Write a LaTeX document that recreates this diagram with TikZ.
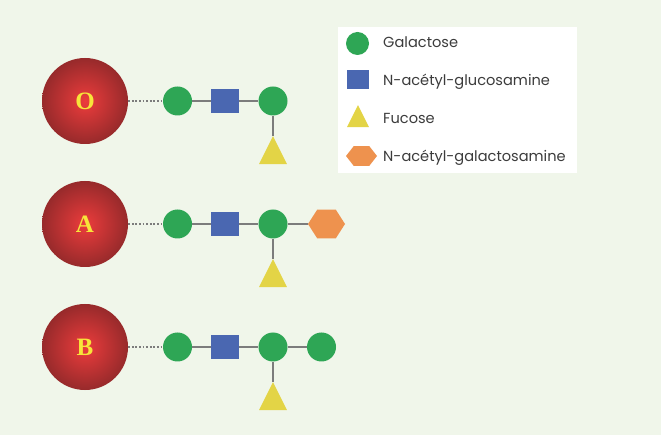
\documentclass[tikz,border=0pt]{standalone}
\usepackage{fontspec}
\newfontfamily\legfont{Poppins}
\newfontfamily\labfont{Liberation Serif}
\usetikzlibrary{shapes.geometric}
\definecolor{bgc}{HTML}{F0F6EA}
\definecolor{galc}{HTML}{2EA655}
\definecolor{glcnac}{HTML}{4A67B1}
\definecolor{fucc}{HTML}{E3D446}
\definecolor{galnac}{HTML}{EE924E}
\definecolor{cellin}{HTML}{EC3C3C}
\definecolor{cellout}{HTML}{972A2B}
\definecolor{labc}{HTML}{F7E53A}
\definecolor{linkc}{HTML}{7C7C7C}
\definecolor{txtc}{HTML}{3C3C3C}
\begin{document}
\begin{tikzpicture}[x=1pt,y=-1pt,
 cell/.style={circle, minimum size=86pt, inner sep=0pt, shading=radial, inner color=cellin, outer color=cellout, font=\labfont\bfseries\fontsize{25}{25}\selectfont, text=labc},
 gal/.style={circle, fill=galc, minimum size=29pt, inner sep=0pt},
 glc/.style={rectangle, fill=glcnac, minimum width=28pt, minimum height=24pt, inner sep=0pt},
 fuc/.style={regular polygon, regular polygon sides=3, fill=fucc, inner sep=0pt, minimum size=32.3pt, yscale=1.155},
 hexa/.style={regular polygon, regular polygon sides=6, fill=galnac, inner sep=0pt, minimum size=37pt, yscale=0.9},
 link/.style={draw=linkc, line width=1.2pt},
 dotlink/.style={draw=linkc, line width=1.6pt, dash pattern=on 1.8pt off 1.8pt},
 legtext/.style={anchor=base west, inner sep=0pt, text=txtc, font=\legfont\fontsize{14.6}{14.6}\selectfont}]
\path[use as bounding box, fill=bgc] (0,0) rectangle (661,435);

% legend
\fill[white] (338,27) rectangle (577,173);
\node[gal, minimum size=23pt] (lgal) at (357.5,43.5) {};
\node[glc, minimum width=22pt, minimum height=19pt] (lglc) at (358,80) {};
\node[fuc, minimum size=25.4pt] (lfuc) at (358,119.7) {};
\node[hexa, minimum size=31pt, yscale=0.82] (lhex) at (361.5,156) {};
\node[legtext] (t1) at (383,48) {Galactose};
\node[legtext] (t2) at (383,86) {N-acétyl-glucosamine};
\node[legtext] (t3) at (383,124) {Fucose};
\node[legtext] (t4) at (383,161.5) {N-acétyl-galactosamine};

% row O
\node[cell] (O) at (85,101) {O};
\node[gal] (O1) at (177.5,101) {};
\node[glc] (O2) at (225,101) {};
\node[gal] (O3) at (273,101) {};
\node[fuc] (O4) at (273,154.7) {};
\draw[dotlink] (O) -- (O1);
\draw[link] (O1) -- (O2);
\draw[link] (O2) -- (O3);
\draw[link] (O3) -- (O4);

% row A
\node[cell] (A) at (85,224) {A};
\node[gal] (A1) at (177.5,224) {};
\node[glc] (A2) at (225,224) {};
\node[gal] (A3) at (273,224) {};
\node[fuc] (A4) at (273,277.7) {};
\node[hexa] (A5) at (326.5,224) {};
\draw[dotlink] (A) -- (A1);
\draw[link] (A1) -- (A2);
\draw[link] (A2) -- (A3);
\draw[link] (A3) -- (A4);
\draw[link] (A3) -- (A5);

% row B
\node[cell] (B) at (85,347) {B};
\node[gal] (B1) at (177.5,347) {};
\node[glc] (B2) at (225,347) {};
\node[gal] (B3) at (273,347) {};
\node[fuc] (B4) at (273,400.7) {};
\node[gal] (B5) at (321.5,347) {};
\draw[dotlink] (B) -- (B1);
\draw[link] (B1) -- (B2);
\draw[link] (B2) -- (B3);
\draw[link] (B3) -- (B4);
\draw[link] (B3) -- (B5);
\end{tikzpicture}
\end{document}
